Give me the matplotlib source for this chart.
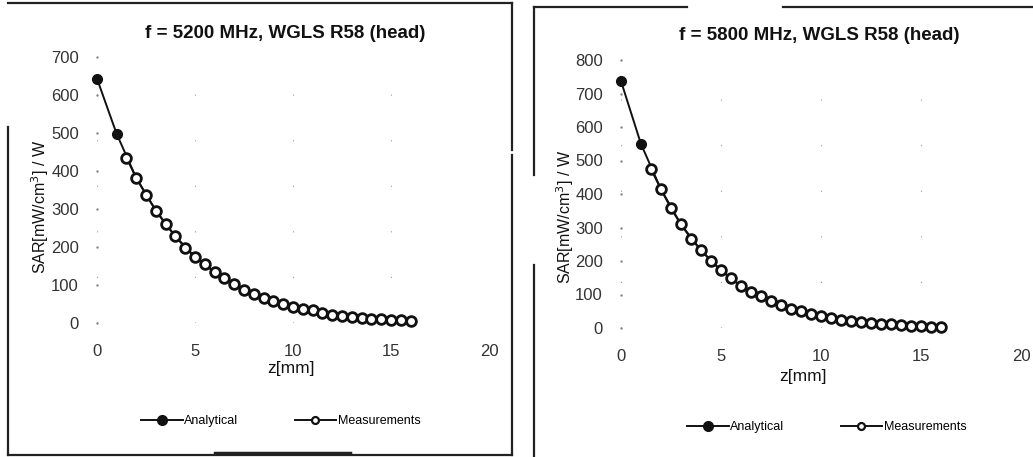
import matplotlib
matplotlib.use("Agg")
import matplotlib.pyplot as plt
from matplotlib.lines import Line2D

plt.rcParams['font.family'] = ['Liberation Sans', 'DejaVu Sans']

# ---- data: 5200 MHz ----
z_an_1 = [0, 1, 2, 3, 4, 5, 6, 7, 8, 9, 10, 11, 12, 13, 14, 15, 16]
sar_an_1 = [643, 498, 382, 296, 228, 174, 134, 103, 77, 58, 42, 33, 22, 17, 11, 8, 5]
z_me_1 = [1.5, 2, 2.5, 3, 3.5, 4, 4.5, 5, 5.5, 6, 6.5, 7, 7.5, 8, 8.5, 9, 9.5, 10,
          10.5, 11, 11.5, 12, 12.5, 13, 13.5, 14, 14.5, 15, 15.5, 16]
sar_me_1 = [435, 382, 338, 296, 260, 228, 198, 174, 154, 134, 118, 103, 88, 77, 67, 58, 49, 42,
            37, 33, 27, 22, 19, 17, 14, 11, 10, 8, 7, 5]

# ---- data: 5800 MHz ----
z_an_2 = [0, 1, 2, 3, 4, 5, 6, 7, 8, 9, 10, 11, 12, 13, 14, 15, 16]
sar_an_2 = [737, 549, 414, 309, 232, 172, 125, 95, 68, 50, 35, 25, 17, 13, 8, 5, 3]
z_me_2 = [1.5, 2, 2.5, 3, 3.5, 4, 4.5, 5, 5.5, 6, 6.5, 7, 7.5, 8, 8.5, 9, 9.5, 10,
          10.5, 11, 11.5, 12, 12.5, 13, 13.5, 14, 14.5, 15, 15.5, 16]
sar_me_2 = [474, 414, 357, 309, 267, 232, 200, 172, 149, 125, 108, 95, 80, 68, 58, 50, 41, 35,
            30, 25, 20, 17, 15, 13, 11, 8, 6, 5, 4, 3]

titles = ["f = 5200 MHz, WGLS R58 (head)", "f = 5800 MHz, WGLS R58 (head)"]
xlabel = "z[mm]"
ylabel = "SAR[mW/cm$^3$] / W"
series_names = ["Analytical", "Measurements"]
x_ticks = [0, 5, 10, 15, 20]
y_ticks_1 = [0, 100, 200, 300, 400, 500, 600, 700]
y_ticks_2 = [0, 100, 200, 300, 400, 500, 600, 700, 800]

W, H = 1033, 457
fig = plt.figure(figsize=(W / 100, H / 100), dpi=100)
INK = '#111111'


def px_axes(x0, x1, ytop, ybot):
    return fig.add_axes([x0 / W, (H - ybot) / H, (x1 - x0) / W, (ybot - ytop) / H])


def ftext(x, y, s, **kw):
    fig.text(x / W, 1 - y / H, s, color=INK, **kw)


def draw(ax, za, sa, zm, sm, yt, title, title_xy, xlab_xy, ylab_xy, leg_xy):
    ax.plot(za, sa, color=INK, lw=1.4, marker='o', ms=7,
            mfc=INK, mec=INK, zorder=3, clip_on=False)
    ax.plot(zm, sm, color=INK, lw=1.4, marker='o', ms=7,
            mfc='white', mec=INK, mew=2.0, zorder=4, clip_on=False)
    ax.set_xlim(0, 20)
    ax.set_ylim(0, yt[-1])
    ax.set_xticks(x_ticks)
    ax.set_yticks(yt)
    for s in ax.spines.values():
        s.set_visible(False)
    ax.tick_params(axis='both', length=0, labelsize=12, colors='#333333')
    ax.tick_params(axis='x', pad=15)
    ax.tick_params(axis='y', pad=13)
    ax.grid(axis='x', color='#999999', lw=0.8, linestyle=(0, (1, 40)))
    ax.plot([0] * len(yt), yt, ls='none', marker='.', ms=1.5, color='#888888', clip_on=False)
    ftext(title_xy[0], title_xy[1], title, ha='center', va='center',
          fontsize=13.5, fontweight='bold')
    ftext(xlab_xy[0], xlab_xy[1], xlabel, ha='center', va='center', fontsize=12.5)
    ftext(ylab_xy[0], ylab_xy[1], ylabel, rotation=90, ha='center', va='center', fontsize=11.5)
    handles = [Line2D([], [], color=INK, lw=1.4, marker='o', ms=7, mfc=INK),
               Line2D([], [], color=INK, lw=1.4, marker='o', ms=5, mfc='white', mew=1.6)]
    fig.legend(handles, series_names, loc='center', ncol=2, frameon=False,
               bbox_to_anchor=(leg_xy[0] / W, 1 - leg_xy[1] / H), fontsize=9,
               handlelength=3.3, handletextpad=0.15, columnspacing=4.5)


ax1 = px_axes(97, 489, 57, 323)
draw(ax1, z_an_1, sar_an_1, z_me_1, sar_me_1, y_ticks_1, titles[0],
     (285, 33), (291, 369), (40, 207), (281, 421))

ax2 = px_axes(621, 1021, 60, 328)
draw(ax2, z_an_2, sar_an_2, z_me_2, sar_me_2, y_ticks_2, titles[1],
     (819, 35), (803, 376), (565, 217), (827, 427))

# panel borders (scanned, partially broken)
bk = dict(color='#222222', lw=1.6)


def seg(x0, y0, x1, y1, **kw):
    fig.add_artist(Line2D([x0 / W, x1 / W], [1 - y0 / H, 1 - y1 / H],
                          transform=fig.transFigure, **kw))


seg(8, 3, 512, 3, **bk)
seg(8, 127, 8, 455, **bk)
seg(512, 3, 512, 150, **bk)
seg(512, 155, 512, 455, **bk)
seg(8, 455, 512, 455, **bk)
seg(215, 453, 350, 453, color='#222222', lw=2.5)

seg(534, 7, 687, 7, **bk)
seg(783, 7, 1033, 7, **bk)
seg(534, 7, 534, 175, **bk)
seg(534, 265, 534, 457, **bk)

fig.savefig("out.png", dpi=100, facecolor='white')
